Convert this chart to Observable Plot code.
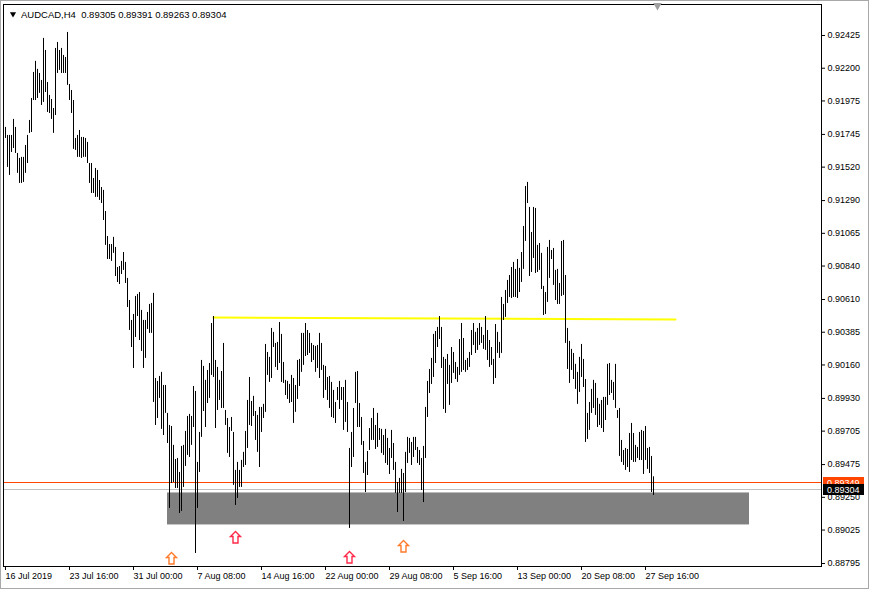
<!DOCTYPE html>
<html><head><meta charset="utf-8">
<script src="https://cdn.jsdelivr.net/npm/d3@7"></script>
<script src="https://cdn.jsdelivr.net/npm/@observablehq/plot@0.6"></script>
<style>
html,body{margin:0;padding:0;background:#fff;}
#chart svg{display:block;outline:1px solid #a8a8a8;outline-offset:-1px;}
#chart svg text{white-space:pre;}
</style></head><body><div id="chart"></div>
<script>
const symbolName = "AUDCAD,H4";
const lastOHLC = [0.89305, 0.89391, 0.89263, 0.89304];

const highs = [
0.91793,0.91738,0.91738,0.91738,0.91848,0.91793,0.91614,0.91580,0.91587,0.91587,
0.91669,0.91738,0.91841,0.91992,0.92171,0.92247,0.92192,0.92164,0.92116,0.92405,
0.92322,0.92102,0.92013,0.91985,0.91923,0.92336,0.92377,0.92322,0.92336,0.92288,
0.92274,0.92446,0.92088,0.92047,0.91978,0.91717,0.91738,0.91772,0.91724,0.91724,
0.91717,0.91690,0.91545,0.91545,0.91442,0.91511,0.91497,0.91428,0.91380,0.91360,
0.91215,0.91043,0.90988,0.90988,0.91037,0.90968,0.90830,0.90837,0.90872,0.90933,
0.90865,0.90755,0.90603,0.90466,0.90507,0.90631,0.90645,0.90658,0.90535,0.90466,
0.90466,0.90521,0.90576,0.90583,0.90652,0.90067,0.90047,0.90081,0.90109,0.90019,
0.90019,0.89827,0.89744,0.89737,0.89607,0.89510,0.89517,0.89421,0.89600,0.89607,
0.89703,0.89806,0.89820,0.89806,0.90012,0.89978,0.89490,0.89696,0.90191,0.90150,
0.90054,0.90122,0.90170,0.90445,0.90493,0.90191,0.90143,0.90054,0.90115,0.90308,
0.89847,0.89792,0.89730,0.89799,0.89696,0.89435,0.89490,0.89435,0.89504,0.89559,
0.89703,0.89916,0.90074,0.89909,0.89944,0.89840,0.89813,0.89868,0.89868,0.89889,
0.90301,0.90246,0.90212,0.90411,0.90384,0.90308,0.90315,0.90452,0.90370,0.90177,
0.90054,0.90047,0.90026,0.90088,0.90067,0.90019,0.90191,0.90198,0.90377,0.90377,
0.90445,0.90397,0.90377,0.90308,0.90294,0.90287,0.90294,0.90377,0.90308,0.90157,
0.90150,0.90074,0.90081,0.90040,0.89985,0.89902,0.90005,0.90047,0.90005,0.90005,
0.90054,0.89902,0.89586,0.89696,0.89861,0.90109,0.90115,0.89895,0.89799,0.89634,
0.89490,0.89565,0.89723,0.89792,0.89861,0.89744,0.89827,0.89723,0.89717,0.89675,
0.89717,0.89655,0.89586,0.89710,0.89620,0.89490,0.89352,0.89380,0.89442,0.89414,
0.89559,0.89662,0.89655,0.89627,0.89662,0.89662,0.89593,0.89572,0.89517,0.89600,
0.89868,0.90047,0.90129,0.90205,0.90370,0.90390,0.90418,0.90493,0.90418,0.90212,
0.90198,0.90232,0.90157,0.90280,0.90246,0.90177,0.90143,0.90335,0.90445,0.90342,
0.90191,0.90205,0.90246,0.90397,0.90445,0.90384,0.90411,0.90445,0.90418,0.90363,
0.90493,0.90397,0.90328,0.90280,0.90198,0.90438,0.90384,0.90315,0.90624,0.90576,
0.90672,0.90741,0.90775,0.90830,0.90865,0.90817,0.90885,0.90824,0.90933,0.91112,
0.91387,0.91415,0.91243,0.91071,0.91243,0.91236,0.90982,0.90995,0.90927,0.90700,
0.90658,0.90968,0.91016,0.90947,0.90961,0.90810,0.90817,0.90720,0.91009,0.91016,
0.90775,0.90411,0.90322,0.90267,0.90239,0.90164,0.90109,0.90212,0.90301,0.90198,
0.90060,0.89827,0.89902,0.89992,0.90054,0.90033,0.89930,0.89889,0.89916,0.89937,
0.89937,0.90164,0.90170,0.90054,0.90040,0.90164,0.89847,0.89861,0.89641,0.89572,
0.89586,0.89579,0.89689,0.89758,0.89689,0.89607,0.89593,0.89696,0.89710,0.89703,
0.89737,0.89586,0.89593,0.89531,0.89391];

const lows = [
0.91717,0.91518,0.91463,0.91621,0.91648,0.91614,0.91477,0.91408,0.91408,0.91415,
0.91477,0.91545,0.91752,0.91758,0.91978,0.91978,0.91992,0.92027,0.91944,0.91965,
0.92033,0.91896,0.91889,0.91848,0.91752,0.91875,0.92164,0.92185,0.92164,0.92164,
0.92164,0.92082,0.91978,0.91889,0.91642,0.91635,0.91587,0.91587,0.91580,0.91587,
0.91587,0.91545,0.91408,0.91339,0.91339,0.91312,0.91312,0.91291,0.91270,0.91153,
0.90982,0.90885,0.90885,0.90872,0.90927,0.90768,0.90727,0.90713,0.90782,0.90810,
0.90720,0.90555,0.90397,0.90280,0.90136,0.90349,0.90493,0.90328,0.90253,0.90136,
0.90205,0.90404,0.90377,0.90377,0.89902,0.89744,0.89792,0.89930,0.89717,0.89675,
0.89827,0.89620,0.89174,0.89345,0.89352,0.89311,0.89311,0.89139,0.89153,0.89318,
0.89462,0.89538,0.89524,0.89607,0.89730,0.88864,0.89174,0.89421,0.89662,0.89840,
0.89730,0.89895,0.89930,0.90088,0.90074,0.89723,0.89847,0.89916,0.89861,0.89861,
0.89744,0.89552,0.89524,0.89703,0.89332,0.89194,0.89242,0.89318,0.89318,0.89455,
0.89469,0.89586,0.89744,0.89737,0.89806,0.89641,0.89559,0.89455,0.89696,0.89792,
0.89834,0.90088,0.90040,0.90067,0.90280,0.90143,0.90122,0.90170,0.90040,0.90033,
0.89950,0.89923,0.89895,0.89902,0.89758,0.89834,0.89923,0.90012,0.90109,0.90157,
0.90218,0.90225,0.90239,0.90177,0.90191,0.90109,0.90136,0.90067,0.90122,0.89930,
0.89985,0.89916,0.89861,0.89799,0.89792,0.89758,0.89916,0.89854,0.89916,0.89710,
0.89765,0.89696,0.89036,0.89455,0.89524,0.89895,0.89730,0.89730,0.89607,0.89414,
0.89283,0.89400,0.89572,0.89641,0.89641,0.89579,0.89593,0.89641,0.89552,0.89538,
0.89483,0.89469,0.89407,0.89517,0.89435,0.89277,0.89146,0.89277,0.89277,0.89084,
0.89283,0.89483,0.89552,0.89469,0.89524,0.89572,0.89483,0.89469,0.89297,0.89214,
0.89517,0.89799,0.89964,0.90026,0.90074,0.90170,0.90280,0.90335,0.90136,0.89854,
0.89827,0.90026,0.89882,0.90033,0.90102,0.90060,0.90040,0.90088,0.90109,0.90122,
0.90109,0.90122,0.90143,0.90225,0.90294,0.90239,0.90260,0.90294,0.90308,0.90267,
0.90260,0.90191,0.90143,0.90157,0.90026,0.90067,0.90239,0.90205,0.90239,0.90466,
0.90487,0.90583,0.90624,0.90617,0.90624,0.90624,0.90617,0.90658,0.90727,0.90817,
0.91009,0.91270,0.90768,0.90796,0.90892,0.90789,0.90796,0.90810,0.90679,0.90500,
0.90507,0.90590,0.90755,0.90885,0.90707,0.90603,0.90576,0.90576,0.90631,0.90638,
0.90308,0.90129,0.90033,0.90122,0.90060,0.89992,0.89889,0.89971,0.90074,0.90005,
0.89627,0.89648,0.89710,0.89827,0.89861,0.89813,0.89730,0.89744,0.89723,0.89696,
0.89778,0.89882,0.89950,0.89964,0.89916,0.89861,0.89792,0.89531,0.89490,0.89469,
0.89435,0.89455,0.89421,0.89503,0.89490,0.89490,0.89517,0.89503,0.89503,0.89407,
0.89503,0.89442,0.89414,0.89283,0.89263];

const xTickIndex = [0, 32, 64, 96, 128, 160, 192, 224, 256, 288, 320];
const xTickLabels = ["16 Jul 2019","23 Jul 16:00","31 Jul 00:00","7 Aug 08:00","14 Aug 16:00",
  "22 Aug 00:00","29 Aug 08:00","5 Sep 16:00","13 Sep 00:00","20 Sep 08:00","27 Sep 16:00"];
const yTickValues = [0.92425,0.92200,0.91975,0.91745,0.91520,0.91290,0.91065,0.90840,
  0.90610,0.90385,0.90160,0.89930,0.89705,0.89475,0.89250,0.89025,0.88795];

const bidPrice = 0.89304;
const askPrice = 0.89349;
const trendIndex = [104, 335];
const trendPrice = [0.90486, 0.90472];
const zoneIndex = [81, 372];
const zonePrice = [0.89060, 0.89280];
const arrowIndex = [83, 115, 172, 199];
const arrowPrice = [0.88829, 0.88974, 0.88836, 0.88912];
const shiftIndex = 326;

// ---- build tables ----
const bars = highs.map((h, i) => ({i, high: h, low: lows[i]}));
const trend = trendIndex.map((i, k) => ({i, p: trendPrice[k]}));
const zone = [{x1: zoneIndex[0], x2: zoneIndex[1], y1: zonePrice[0], y2: zonePrice[1]}];
const arrows = arrowIndex.map((i, k) => ({i, p: arrowPrice[k], k}));
const arrowColors = ["#ff7a2a", "#ff2848", "#ff2848", "#ff7a2a"];
const titleText = symbolName + "  " + lastOHLC.map(v => v.toFixed(5)).join(" ");

const upArrow = {
  draw(ctx) {
    ctx.moveTo(0, -6); ctx.lineTo(5, -1); ctx.lineTo(2.5, -1); ctx.lineTo(2.5, 5.5);
    ctx.lineTo(-2.5, 5.5); ctx.lineTo(-2.5, -1); ctx.lineTo(-5, -1); ctx.closePath();
  }
};

const W = 869, H = 589;
const mL = 3, mR = 48, mT = 4, mB = 23;
const FONT = "'Liberation Sans', Arial, sans-serif";

const marks = [
  Plot.rect(zone, {x1: "x1", x2: "x2", y1: "y1", y2: "y2", fill: "#808080"}),
  Plot.ruleY([bidPrice], {stroke: "#c0c0c0", shapeRendering: "crispEdges"}),
  Plot.ruleY([askPrice], {stroke: "#ff4500", shapeRendering: "crispEdges"}),
  Plot.line(trend, {x: "i", y: "p", stroke: "#ffff00", strokeWidth: 2}),
  Plot.ruleX(bars, {x: "i", y1: "low", y2: "high", stroke: "#000", strokeWidth: 1}),
  Plot.dot(arrows, {x: "i", y: "p", symbol: upArrow, r: 5, stroke: d => arrowColors[d.k], fill: "#fff", strokeWidth: 1.4}),
  Plot.frame({stroke: "#000"}),
  Plot.text([titleText], {text: d => d, frameAnchor: "top-left", dx: 17.5, dy: 6.5, lineAnchor: "top", textAnchor: "start", fontSize: 9.5, fill: "#000"}),
  Plot.dot([0], {frameAnchor: "top-left", dx: 9.5, dy: 9.5, symbol: "triangle", rotate: 180, r: 2.3, fill: "#000", stroke: "none"}),
  Plot.dot([shiftIndex], {x: d => d, frameAnchor: "top", dy: 1, symbol: "triangle", rotate: 180, r: 3.2, fill: "#a0a0a0", stroke: "none"})
];

const hasAxisMarks = typeof Plot.axisX === "function";
if (hasAxisMarks) {
  marks.push(
    Plot.axisX({anchor: "bottom", ticks: xTickIndex, tickFormat: d => xTickLabels[xTickIndex.indexOf(d)],
      tickSize: 4, tickPadding: 2, textAnchor: "start", fontSize: 9, label: null}),
    Plot.axisY({anchor: "right", ticks: yTickValues, tickFormat: d => d.toFixed(5),
      tickSize: 3, tickPadding: 3, fontSize: 9, label: null})
  );
}

const plot = Plot.plot({
  width: W, height: H,
  marginLeft: mL, marginRight: mR, marginTop: mT, marginBottom: mB,
  style: {fontFamily: FONT, fontSize: "9px", background: "#fff", color: "#000"},
  x: hasAxisMarks ? {type: "linear", domain: [-1, 408]} :
     {type: "linear", domain: [-1, 408], ticks: xTickIndex, tickFormat: d => xTickLabels[xTickIndex.indexOf(d)], tickSize: 4, label: null},
  y: hasAxisMarks ? {type: "linear", domain: [0.887744, 0.926381]} :
     {type: "linear", domain: [0.887744, 0.926381], axis: "right", ticks: yTickValues, tickFormat: d => d.toFixed(5), tickSize: 3, label: null},
  marks
});

document.getElementById("chart").appendChild(plot);

// price tags on the right axis (ask behind, bid in front)
const ySc = plot.scale("y");
const svg = d3.select(plot);
const tagX = W - mR + 2;
function tag(price, bg) {
  const y = Math.round(ySc.apply(price));
  const g = svg.append("g");
  g.append("rect").attr("x", tagX).attr("y", y - 5).attr("width", 41).attr("height", 11)
    .attr("fill", bg).attr("shape-rendering", "crispEdges");
  g.append("text").attr("x", tagX + 4).attr("y", y + 3.5)
    .attr("text-anchor", "start")
    .attr("fill", "#fff").attr("font-size", 9).attr("font-family", FONT)
    .text(price.toFixed(5));
}
tag(askPrice, "#ff4500");
tag(bidPrice, "#000");
</script></body></html>
